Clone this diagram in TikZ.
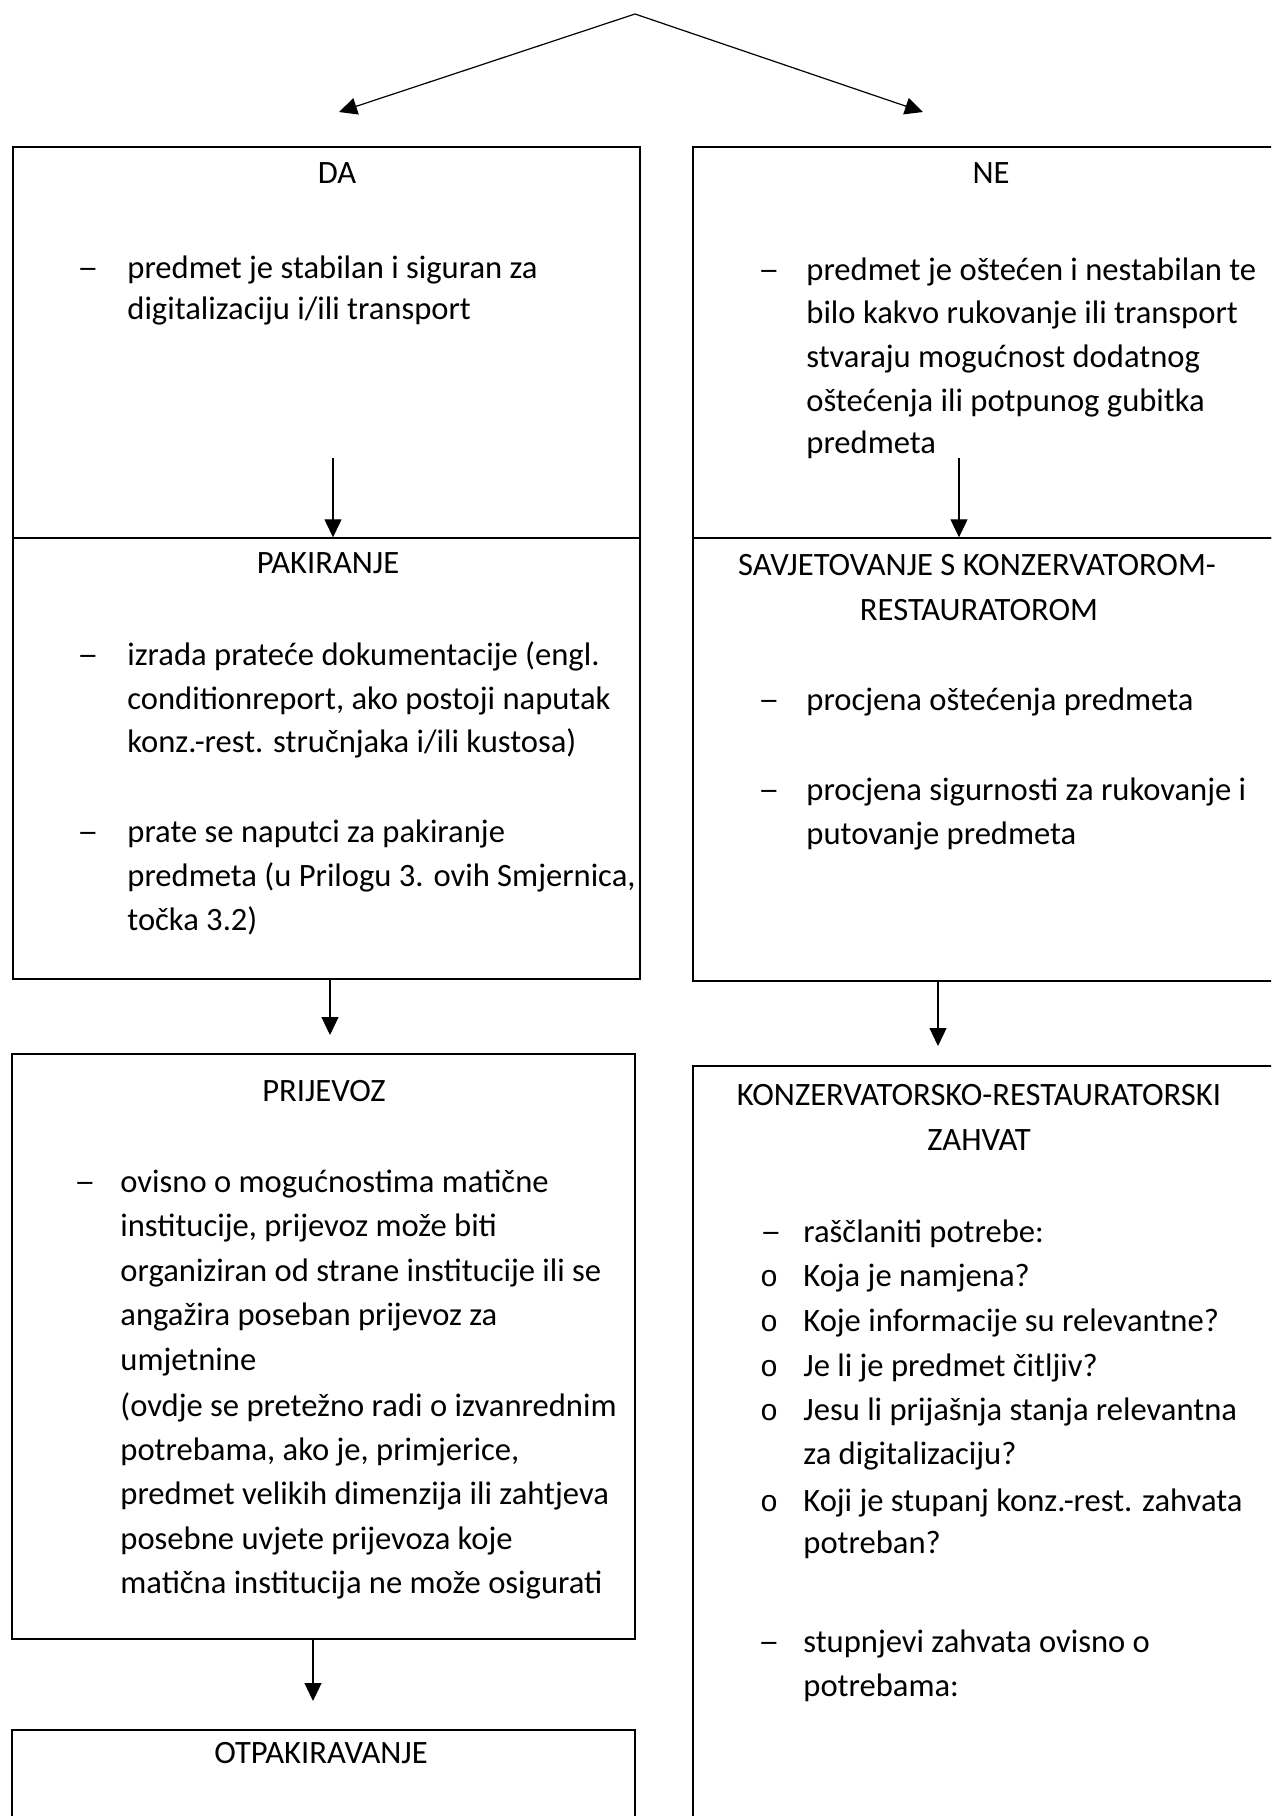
\documentclass[tikz,border=0pt]{standalone}
\usepackage{graphicx}
\usepackage{fontspec}
\setmainfont{Carlito}
\newfontfamily\bulletfont{Liberation Mono}
\usetikzlibrary{arrows.meta}
\newcommand{\mydash}{\scalebox{1.3}[1]{–}}
\begin{document}
\begin{tikzpicture}[x=0.5pt,y=-0.5pt,
  box/.style={draw, line width=0.7pt, inner sep=0pt, rectangle},
  arr/.style={-{Triangle[length=9pt,width=8.5pt]}, line width=0.6pt},
  txt/.style={inner sep=0pt, anchor=mid west, yshift=-2.5pt, font=\fontsize{16.3}{19}\selectfont},
  head/.style={inner sep=0pt, anchor=mid, yshift=-2.5pt, font=\fontsize{16.3}{19}\selectfont},
  bul/.style={inner sep=0pt, anchor=mid, yshift=-2.5pt, font=\bulletfont\fontsize{15}{17}\selectfont}]
\useasboundingbox (0,0) rectangle (1271,1816);
\clip (0,0) rectangle (1271,1816);

% boxes
\node[box, minimum width=313.5pt, minimum height=195.5pt] (da)   at (326.5,342.5) {};
\node[box, minimum width=313.5pt, minimum height=220.5pt] (pak)  at (326.5,758.5) {};
\node[box, minimum width=311.5pt, minimum height=292.5pt] (prij) at (323.5,1346.5) {};
\node[box, minimum width=311.5pt, minimum height=55pt]    (otp)  at (323.5,1785) {};
\node[box, minimum width=303.5pt, minimum height=195.5pt] (ne)   at (996.5,342.5) {};
\node[box, minimum width=303.5pt, minimum height=221.5pt] (sav)  at (996.5,759.5) {};
\node[box, minimum width=303.5pt, minimum height=387pt]   (konz) at (996.5,1453) {};

% top arrows
\coordinate (apex) at (635,14);
\coordinate (tl) at (339,112);
\coordinate (tr) at (923,112);
\draw[arr] (apex) -- (tl);
\draw[arr] (apex) -- (tr);

% column arrows
\coordinate (a1s) at (333,458);
\draw[arr] (a1s) -- (a1s |- pak.north);
\coordinate (a3s) at (959,458);
\draw[arr] (a3s) -- (a3s |- sav.north);
\coordinate (a2e) at (330,1035);
\draw[arr] (pak.south -| a2e) -- (a2e);
\coordinate (a4e) at (938,1046);
\draw[arr] (sav.south -| a4e) -- (a4e);
\coordinate (a5e) at (313,1701);
\draw[arr] (prij.south -| a5e) -- (a5e);

% DA
\node[head] (hda) at (337,174) {DA};
\node[txt] (dda1) at (77,269) {\mydash};
\node[txt] (tda1) at (127,269) {predmet je stabilan i siguran za};
\node[txt] (tda2) at (127,310) {digitalizaciju i/ili transport};

% NE
\node[head] (hne) at (991,174) {NE};
\node[txt] (dne1) at (758,271) {\mydash};
\node[txt] (tne1) at (806,271) {predmet je oštećen i nestabilan te};
\node[txt] (tne2) at (806,314) {bilo kakvo rukovanje ili transport};
\node[txt] (tne3) at (806,358) {stvaraju mogućnost dodatnog};
\node[txt] (tne4) at (806,402) {oštećenja ili potpunog gubitka};
\node[txt] (tne5) at (806,444) {predmeta};

% PAKIRANJE
\node[head] (hpak) at (328,564) {PAKIRANJE};
\node[txt] (dpak1) at (77,656) {\mydash};
\node[txt] (tpak1) at (127,656) {izrada prateće dokumentacije (engl.};
\node[txt] (tpak2) at (127,700) {conditionreport, ako postoji naputak};
\node[txt] (tpak3) at (127,743) {konz.-rest. stručnjaka i/ili kustosa)};
\node[txt] (dpak2) at (77,833) {\mydash};
\node[txt] (tpak4) at (127,833) {prate se naputci za pakiranje};
\node[txt] (tpak5) at (127,877) {predmeta (u Prilogu 3. ovih Smjernica,};
\node[txt] (tpak6) at (127,921) {točka 3.2)};

% SAVJETOVANJE
\node[head] (hsav1) at (977,566) {SAVJETOVANJE S KONZERVATOROM-};
\node[head] (hsav2) at (979,611) {RESTAURATOROM};
\node[txt] (dsav1) at (758,701) {\mydash};
\node[txt] (tsav1) at (806,701) {procjena oštećenja predmeta};
\node[txt] (dsav2) at (758,791) {\mydash};
\node[txt] (tsav2) at (806,791) {procjena sigurnosti za rukovanje i};
\node[txt] (tsav3) at (806,835) {putovanje predmeta};

% PRIJEVOZ
\node[head] (hprij) at (324,1092) {PRIJEVOZ};
\node[txt] (dprij1) at (74,1183) {\mydash};
\node[txt] (tprij1) at (120,1183) {ovisno o mogućnostima matične};
\node[txt] (tprij2) at (120,1227) {institucije, prijevoz može biti};
\node[txt] (tprij3) at (120,1272) {organiziran od strane institucije ili se};
\node[txt] (tprij4) at (120,1316) {angažira poseban prijevoz za};
\node[txt] (tprij5) at (120,1361) {umjetnine};
\node[txt] (tprij6) at (120,1407) {(ovdje se pretežno radi o izvanrednim};
\node[txt] (tprij7) at (120,1451) {potrebama, ako je, primjerice,};
\node[txt] (tprij8) at (120,1495) {predmet velikih dimenzija ili zahtjeva};
\node[txt] (tprij9) at (120,1540) {posebne uvjete prijevoza koje};
\node[txt] (tprij10) at (120,1584) {matična institucija ne može osigurati};

% OTPAKIRAVANJE
\node[head] (hotp) at (321,1754) {OTPAKIRAVANJE};

% KONZERVATORSKO-RESTAURATORSKI ZAHVAT
\node[head] (hkonz1) at (979,1096) {KONZERVATORSKO-RESTAURATORSKI};
\node[head] (hkonz2) at (979,1141) {ZAHVAT};
\node[txt] (dkonz1) at (760,1233) {\mydash};
\node[txt] (tkonz1) at (803,1233) {raščlaniti potrebe:};
\node[bul] (bk1) at (769,1277) {o};
\node[txt] (tkonz2) at (803,1277) {Koja je namjena?};
\node[bul] (bk2) at (769,1322) {o};
\node[txt] (tkonz3) at (803,1322) {Koje informacije su relevantne?};
\node[bul] (bk3) at (769,1367) {o};
\node[txt] (tkonz4) at (803,1367) {Je li je predmet čitljiv?};
\node[bul] (bk4) at (769,1411) {o};
\node[txt] (tkonz5) at (803,1411) {Jesu li prijašnja stanja relevantna};
\node[txt] (tkonz6) at (803,1455) {za digitalizaciju?};
\node[bul] (bk5) at (769,1502) {o};
\node[txt] (tkonz7) at (803,1502) {Koji je stupanj konz.-rest. zahvata};
\node[txt] (tkonz8) at (803,1544) {potreban?};
\node[txt] (dkonz2) at (758,1643) {\mydash};
\node[txt] (tkonz9) at (803,1643) {stupnjevi zahvata ovisno o};
\node[txt] (tkonz10) at (803,1687) {potrebama:};
\end{tikzpicture}
\end{document}
